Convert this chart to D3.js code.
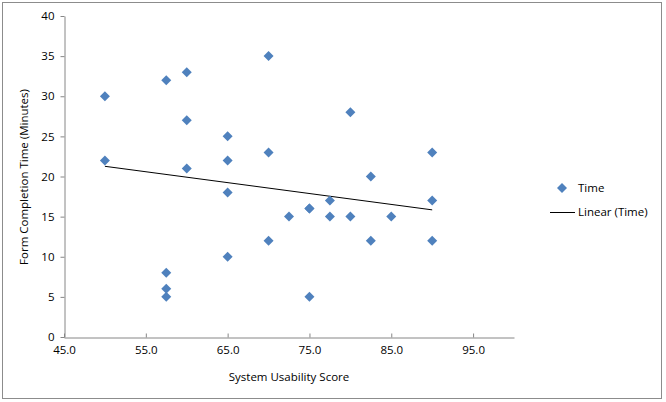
<!DOCTYPE html>
<html><head><meta charset="utf-8">
<script src="https://cdn.jsdelivr.net/npm/d3@7"></script>
<style>body{margin:0;background:#fff;}svg{display:block;font-family:"Open Sans",sans-serif;}</style>
</head><body><svg id="c" width="666" height="402"></svg>
<script>
const usabilityScores = [50,50,57.5,57.5,57.5,57.5,60,60,60,65,65,65,65,70,70,70,72.5,75,75,75,77.5,77.5,80,80,82.5,82.5,85,90,90,90];
const completionTimes = [30,22,32,8,6,5,33,27,21,25,22,18,10,35,23,12,15,16,16,5,17,15,28,15,20,12,15,23,17,12];
const xTicks = [45,55,65,75,85,95];
const yTicks = [0,5,10,15,20,25,30,35,40];
const seriesName = "Time";
const trendName = "Linear (Time)";
const FS = "11.5px";

const svg = d3.select("#c");
svg.append("rect").attr("x",2.5).attr("y",2.5).attr("width",659).attr("height",396)
  .attr("fill","#fff").attr("stroke","#8c8c8c").attr("stroke-width",1);

const x = d3.scaleLinear().domain([45,100]).range([64,514]);
const y = d3.scaleLinear().domain([0,40]).range([337,16]);

const xAx = svg.append("g").attr("transform","translate(0,337.5)")
  .call(d3.axisBottom(x).tickValues(xTicks).tickFormat(d3.format(".1f")).tickSizeInner(-4).tickSizeOuter(0).tickPadding(8));
const yAx = svg.append("g").attr("transform","translate(64.5,0)")
  .call(d3.axisLeft(y).tickValues(yTicks).tickSizeInner(4).tickSizeOuter(0));
[xAx,yAx].forEach(g=>{
  g.select(".domain").attr("stroke","#868686");
  g.selectAll(".tick line").attr("stroke","#868686");
  g.selectAll("text").attr("fill","#000").attr("font-size",FS).attr("font-family","Open Sans, sans-serif");
});
yAx.selectAll("text").attr("dx","-3px");

// regression
const n = usabilityScores.length;
const mx = d3.mean(usabilityScores), my = d3.mean(completionTimes);
let sxy=0,sxx=0;
for(let i=0;i<n;i++){sxy+=(usabilityScores[i]-mx)*(completionTimes[i]-my);sxx+=(usabilityScores[i]-mx)**2;}
const slope=sxy/sxx, icpt=my-slope*mx;
const x0=d3.min(usabilityScores), x1=d3.max(usabilityScores);
svg.append("line").attr("x1",x(x0)).attr("y1",y(icpt+slope*x0)).attr("x2",x(x1)).attr("y2",y(icpt+slope*x1))
  .attr("stroke","#000").attr("stroke-width",1);

const sym = d3.symbol(d3.symbolSquare,50);
svg.append("g").selectAll("path").data(usabilityScores.map((v,i)=>[v,completionTimes[i]])).join("path")
  .attr("d",sym).attr("transform",d=>`translate(${x(d[0])},${y(d[1])}) rotate(45)`)
  .attr("fill","#4F81BD");

// legend
svg.append("path").attr("d",sym).attr("transform","translate(562,188) rotate(45)").attr("fill","#4F81BD");
svg.append("text").attr("x",578).attr("y",192).attr("font-size",FS).text(seriesName);
svg.append("line").attr("x1",550).attr("x2",575).attr("y1",212.5).attr("y2",212.5).attr("stroke","#000");
svg.append("text").attr("x",578).attr("y",216).attr("font-size",FS).text(trendName);

// titles
svg.append("text").attr("x",289).attr("y",381).attr("text-anchor","middle").attr("font-size",FS).text("System Usability Score");
svg.append("text").attr("transform","translate(28,177) rotate(-90)").attr("text-anchor","middle").attr("font-size",FS).text("Form Completion Time (Minutes)");
</script></body></html>
